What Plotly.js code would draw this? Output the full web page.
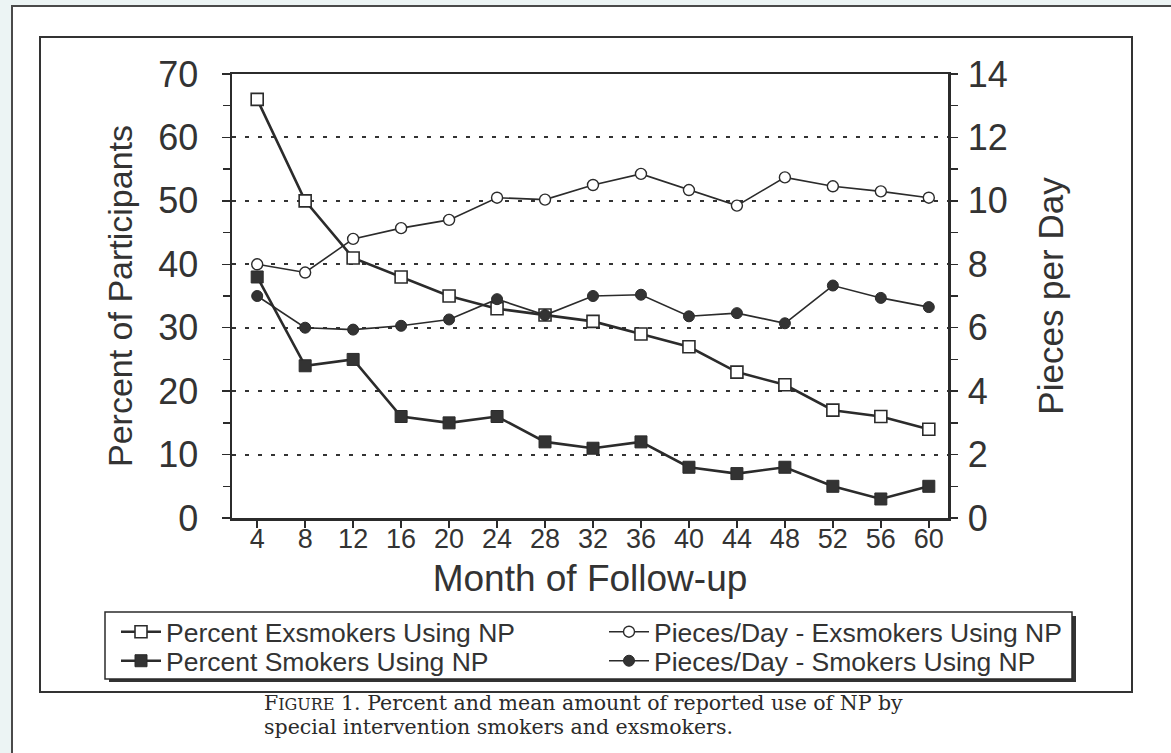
<!DOCTYPE html>
<html>
<head>
<meta charset="utf-8">
<script src="https://cdn.plot.ly/plotly-3.0.1.min.js"></script>
<style>
html,body{margin:0;padding:0;background:#ecf4f4;}
#chart{width:1171px;height:753px;}
</style>
</head>
<body>
<div id="chart"></div>
<script>
// ---- data ----
const months = [4, 8, 12, 16, 20, 24, 28, 32, 36, 40, 44, 48, 52, 56, 60];
const pctExsmokers = [66, 50, 41, 38, 35, 33, 32, 31, 29, 27, 23, 21, 17, 16, 14];
const pctSmokers   = [38, 24, 25, 16, 15, 16, 12, 11, 12, 8, 7, 8, 5, 3, 5];
const piecesExsmokers = [8.0, 7.74, 8.8, 9.14, 9.4, 10.1, 10.04, 10.5, 10.85, 10.34, 9.85, 10.74, 10.46, 10.3, 10.1];
const piecesSmokers   = [7.0, 6.0, 5.94, 6.06, 6.26, 6.9, 6.4, 7.0, 7.04, 6.36, 6.46, 6.14, 7.33, 6.94, 6.65];
const leftTicks = [0, 10, 20, 30, 40, 50, 60, 70];
const rightTicks = [0, 2, 4, 6, 8, 10, 12, 14];
const seriesNames = ['Percent Exsmokers Using NP', 'Pieces/Day - Exsmokers Using NP',
                     'Percent Smokers Using NP', 'Pieces/Day - Smokers Using NP'];
const captionLine1 = 'F<span style="font-size:16px">IGURE</span> 1. Percent and mean amount of reported use of NP by';
const captionLine2 = 'special intervention smokers and exsmokers.';

// ---- layout geometry (pixels) ----
const W = 1171, H = 753;
const M = {l: 232, r: 223, t: 74, b: 235, autoexpand: false};
const PW = W - M.l - M.r, PH = H - M.t - M.b;
const px = x => (x - M.l) / PW;
const py = y => (H - M.b - y) / PH;

const ink = '#2b2b2b';
const txt = '#333333';
const sansFont = 'Liberation Sans, Arial, sans-serif';
const serifFont = 'DejaVu Serif, Liberation Serif, serif';

const traces = [
  {x: months, y: pctExsmokers, name: seriesNames[0], type: 'scatter', mode: 'lines+markers', yaxis: 'y', legend: 'legend',
   line: {color: ink, width: 2.6}, marker: {symbol: 'square', size: 12, color: 'white', line: {color: ink, width: 1.6}}},
  {x: months, y: piecesExsmokers, name: seriesNames[1], type: 'scatter', mode: 'lines+markers', yaxis: 'y2', legend: 'legend2',
   line: {color: ink, width: 1.6}, marker: {symbol: 'circle', size: 11, color: 'white', line: {color: ink, width: 1.4}}},
  {x: months, y: pctSmokers, name: seriesNames[2], type: 'scatter', mode: 'lines+markers', yaxis: 'y', legend: 'legend3',
   line: {color: ink, width: 2.6}, marker: {symbol: 'square', size: 12, color: '#333', line: {color: ink, width: 1}}},
  {x: months, y: piecesSmokers, name: seriesNames[3], type: 'scatter', mode: 'lines+markers', yaxis: 'y2', legend: 'legend4',
   line: {color: ink, width: 1.6}, marker: {symbol: 'circle', size: 11, color: '#333', line: {color: ink, width: 1}}}
];

function legendAt(xPix, yPix) {
  return {
    orientation: 'v', x: px(xPix), y: py(yPix), xanchor: 'left', yanchor: 'middle',
    bgcolor: 'rgba(0,0,0,0)', borderwidth: 0, itemwidth: 40,
    font: {size: 26.5, color: txt, family: sansFont}
  };
}

const xr = [1.9, 61.6];
const layout = {
  width: W, height: H,
  margin: M,
  paper_bgcolor: '#ecf4f4',
  plot_bgcolor: 'rgba(0,0,0,0)',
  font: {family: sansFont, color: txt},
  showlegend: true,
  xaxis: {
    range: xr, tickvals: months, ticks: 'outside', ticklen: 7, tickwidth: 1.5, tickcolor: ink,
    showline: true, linewidth: 2.5, linecolor: ink, mirror: true, showgrid: false, zeroline: false,
    tickfont: {size: 27, color: txt}, ticklabelstandoff: -12,
    title: {text: 'Month of Follow-up', font: {size: 37, color: txt}, standoff: 12}
  },
  xaxis2: {
    overlaying: 'x', anchor: 'y', range: xr, tickvals: months, ticks: 'inside', ticklen: 7, tickwidth: 1.5,
    tickcolor: ink, showticklabels: false, showline: false, showgrid: false, zeroline: false
  },
  yaxis: {
    range: [0, 70], tickvals: leftTicks, ticks: 'outside', ticklen: 8, tickwidth: 1.5, tickcolor: ink,
    minor: {dtick: 5, ticks: 'outside', ticklen: 7, tickwidth: 1.5, tickcolor: ink, showgrid: false},
    showline: true, linewidth: 2.5, linecolor: ink, showgrid: true, gridcolor: '#333', gridwidth: 2,
    griddash: '4px,9px', zeroline: false,
    tickfont: {size: 36, color: txt}, ticklabelstandoff: 16,
    title: {text: 'Percent of Participants', font: {size: 34, color: txt}, standoff: 16}
  },
  yaxis2: {
    overlaying: 'y', side: 'right', anchor: 'x', range: [0, 14], tickvals: rightTicks, ticks: 'outside', ticklen: 7,
    tickwidth: 1.5, tickcolor: ink,
    minor: {dtick: 1, ticks: 'outside', ticklen: 7, tickwidth: 1.5, tickcolor: ink, showgrid: false},
    showline: true, linewidth: 2.5, linecolor: ink, showgrid: false, zeroline: false,
    tickfont: {size: 36, color: txt}, ticklabelstandoff: 3,
    title: {text: 'Pieces per Day', font: {size: 35, color: txt}, standoff: 32}
  },
  yaxis3: {
    overlaying: 'y', side: 'left', anchor: 'x', range: [0, 70], tickvals: leftTicks, ticks: 'inside', ticklen: 7,
    tickwidth: 1.5, tickcolor: ink,
    minor: {dtick: 5, ticks: 'inside', ticklen: 7, tickwidth: 1.5, tickcolor: ink, showgrid: false},
    showticklabels: false, showline: false, showgrid: false, zeroline: false
  },
  yaxis4: {
    overlaying: 'y', side: 'right', anchor: 'x', range: [0, 14], tickvals: rightTicks, ticks: 'inside', ticklen: 7,
    tickwidth: 1.5, tickcolor: ink,
    minor: {dtick: 1, ticks: 'inside', ticklen: 7, tickwidth: 1.5, tickcolor: ink, showgrid: false},
    showticklabels: false, showline: false, showgrid: false, zeroline: false
  },
  legend: legendAt(116, 632),
  legend2: legendAt(604, 632),
  legend3: legendAt(116, 661),
  legend4: legendAt(604, 661),
  shapes: [
    // page
    {type: 'rect', xref: 'paper', yref: 'paper', x0: px(12), x1: px(1185), y0: py(770), y1: py(6),
     fillcolor: 'white', line: {color: '#4a4a4a', width: 2}, layer: 'below'},
    // inner frame
    {type: 'rect', xref: 'paper', yref: 'paper', x0: px(40), x1: px(1132), y0: py(692), y1: py(37),
     fillcolor: 'rgba(0,0,0,0)', line: {color: '#333', width: 2}, layer: 'below'},
    // legend shadow
    {type: 'rect', xref: 'paper', yref: 'paper', x0: px(109), x1: px(1076), y0: py(682), y1: py(616),
     fillcolor: '#333', line: {width: 0}, layer: 'above'},
    // legend box
    {type: 'rect', xref: 'paper', yref: 'paper', x0: px(105), x1: px(1072), y0: py(679), y1: py(612),
     fillcolor: 'white', line: {color: ink, width: 1.5}, layer: 'above'}
  ],
  annotations: [
    {xref: 'paper', yref: 'paper', x: px(262), y: py(703), xanchor: 'left', yanchor: 'middle', align: 'left',
     showarrow: false, text: captionLine1,
     font: {family: serifFont, size: 20.5, color: '#2a2a2a'}},
    {xref: 'paper', yref: 'paper', x: px(262), y: py(727), xanchor: 'left', yanchor: 'middle', align: 'left',
     showarrow: false, text: captionLine2,
     font: {family: serifFont, size: 20.5, color: '#2a2a2a'}}
  ]
};

Plotly.newPlot('chart', traces, layout, {displayModeBar: false, staticPlot: true});
</script>
</body>
</html>
